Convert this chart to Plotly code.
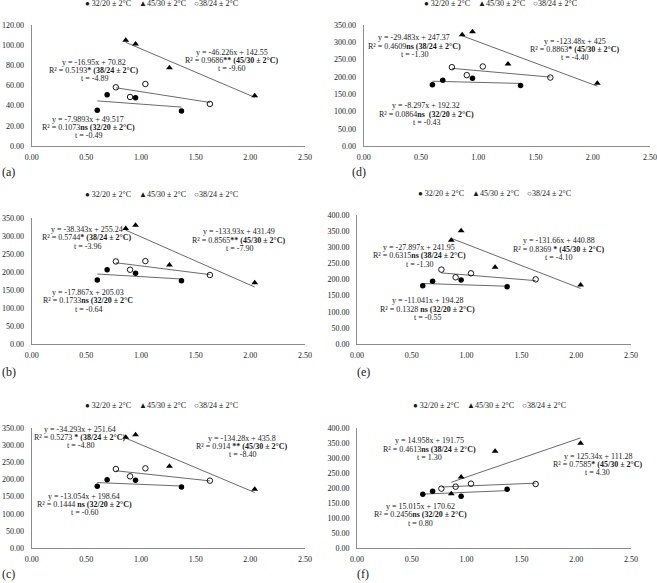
import plotly.graph_objects as go

# ---------------- data ----------------
x_3220 = [0.60, 0.69, 0.95, 1.37]
x_4530 = [0.86, 0.95, 1.26, 2.04]
x_3824 = [0.77, 0.90, 1.04, 1.63]

panels = ["a", "b", "c", "d", "e", "f"]

y_3220 = {
    "a": [35.4, 50.9, 47.9, 34.7],
    "b": [177.8, 206.3, 196.2, 175.9],
    "c": [179.9, 199.3, 197.4, 177.9],
    "d": [177.0, 190.5, 196.3, 175.0],
    "e": [180.8, 194.3, 198.4, 177.7],
    "f": [178.9, 188.9, 172.2, 195.6],
}
y_4530 = {
    "a": [104.8, 101.2, 77.7, 49.9],
    "b": [320.5, 329.7, 219.2, 170.4],
    "c": [322.8, 330.5, 238.2, 171.1],
    "d": [322.0, 330.7, 237.0, 181.8],
    "e": [322.0, 351.0, 237.9, 182.9],
    "f": [181.1, 236.7, 322.2, 348.9],
}
y_3824 = {
    "a": [58.2, 48.6, 61.5, 41.7],
    "b": [229.3, 206.3, 230.3, 191.6],
    "c": [230.4, 209.0, 232.4, 196.4],
    "d": [228.0, 205.0, 230.0, 198.0],
    "e": [230.6, 206.8, 219.2, 200.5],
    "f": [197.8, 204.4, 214.4, 213.3],
}

# trendline coefficients (slope, intercept)
fit_3220 = {"a": (-7.9893, 49.517), "b": (-17.867, 205.03), "c": (-13.054, 198.64),
            "d": (-8.297, 192.32), "e": (-11.041, 194.28), "f": (15.015, 170.62)}
fit_4530 = {"a": (-46.226, 142.55), "b": (-133.93, 431.49), "c": (-134.28, 435.8),
            "d": (-123.48, 425.0), "e": (-131.66, 440.88), "f": (125.34, 111.28)}
fit_3824 = {"a": (-16.95, 70.82), "b": (-38.343, 255.24), "c": (-34.293, 251.64),
            "d": (-29.483, 247.37), "e": (-27.897, 241.95), "f": (14.958, 191.75)}

# equation texts
txt_3220 = {
    "a": ["y = -7.9893x + 49.517", "R² = 0.1073<b>ns (32/20 ± 2°C)</b>", "t = -0.49"],
    "b": ["y = -17.867x + 205.03", "R² = 0.1733<b>ns (32/20 ± 2°C</b>", "t = -0.64"],
    "c": ["y = -13.054x + 198.64", "R² = 0.1444 <b>ns (32/20 ± 2°C)</b>", "t = -0.60"],
    "d": ["y = -8.297x + 192.32", "R² = 0.0864<b>ns  (32/20 ± 2°C)</b>", "t = -0.43"],
    "e": ["y = -11.041x + 194.28", "R² = 0.1328 <b>ns (32/20 ± 2°C)</b>", "t = -0.55"],
    "f": ["y = 15.015x + 170.62", "R² = 0.2456<b>ns (32/20 ± 2°C)</b>", "t = 0.80"],
}
txt_4530 = {
    "a": ["y = -46.226x + 142.55", "R² = 0.9686<b>** (45/30 ± 2°C)</b>", "t = -9.60"],
    "b": ["y = -133.93x + 431.49", "R² = 0.8565<b>** (45/30 ± 2°C)</b>", "t = -7.90"],
    "c": ["y = -134.28x + 435.8", "R² = 0.914 <b>** (45/30 ± 2°C)</b>", "t = -8.40"],
    "d": ["y = -123.48x + 425", "R² = 0.8863<b>* (45/30 ± 2°C)</b>", "t = -4.40"],
    "e": ["y = -131.66x + 440.88", "R² = 0.8369 <b>* (45/30 ± 2°C)</b>", "t = -4.10"],
    "f": ["y = 125.34x + 111.28", "R² = 0.7585<b>* (45/30 ± 2°C)</b>", "t = 4.30"],
}
txt_3824 = {
    "a": ["y = -16.95x + 70.82", "R² = 0.5193<b>* (38/24 ± 2°C)</b>", "t = -4.89"],
    "b": ["y = -38.343x + 255.24", "R² = 0.5744<b>* (38/24 ± 2°C)</b>", "t = -3.96"],
    "c": ["y = -34.293x + 251.64", "R² = 0.5273 <b>* (38/24 ± 2°C)</b>", "t = -4.80"],
    "d": ["y = -29.483x + 247.37", "R² = 0.4609<b>ns (38/24 ± 2°C)</b>", "t = -1.30"],
    "e": ["y = -27.897x + 241.95", "R² = 0.6315<b>ns (38/24 ± 2°C)</b>", "t = -1.30"],
    "f": ["y = 14.958x + 191.75", "R² = 0.4613<b>ns (38/24 ± 2°C)</b>", "t = 1.30"],
}

y_max = {"a": 120, "b": 350, "c": 350, "d": 350, "e": 400, "f": 400}
y_step = {"a": 20, "b": 50, "c": 50, "d": 50, "e": 50, "f": 50}
x_ticks = [0.0, 0.5, 1.0, 1.5, 2.0, 2.5]

legend_names = ["32/20 ± 2°C", "45/30 ± 2°C", "38/24 ± 2°C"]
panel_labels = {"a": "(a)", "b": "(b)", "c": "(c)", "d": "(d)", "e": "(e)", "f": "(f)"}

# ---------------- layout geometry (pixels) ----------------
W, H = 657, 583
geom = {  # x0, x1, ytop, ybottom in px
    "a": (31.7, 305, 25, 146),
    "b": (31.7, 305, 218, 344),
    "c": (31.7, 305, 428, 548),
    "d": (363.7, 650, 25, 146),
    "e": (357, 631, 215, 344),
    "f": (357, 631, 428, 548),
}
# annotation block centers in data coords (x, y) for 32/20, 45/30, 38/24
ann_pos = {
    "a": [(0.518, 18.5), (1.83, 84.6), (0.573, 74.7)],
    "b": [(0.518, 119.7), (1.90, 288.3), (0.51, 294.7)],
    "c": [(0.479, 126.4), (1.927, 296.5), (0.442, 322.8)],
    "d": [(0.548, 91.9), (1.844, 279.5), (0.44, 289.0)],
    "e": [(0.639, 108.0), (1.84, 294.0), (0.569, 273.2)],
    "f": [(0.578, 111.0), (2.196, 277.8), (0.66, 330.0)],
}
legend_pos = {"a": (161, 3.5), "b": (161, 194), "c": (161, 405),
              "d": (500, 3.5), "e": (494, 193), "f": (489, 405)}
label_pos = {"a": (0, 172), "b": (0, 372), "c": (0, 574),
             "d": (350, 172), "e": (355, 372), "f": (355, 574)}

FONT = "Liberation Serif"
TXT = "#1a1a1a"

fig = go.Figure()
layout = dict(
    width=W, height=H, margin=dict(l=0, r=0, t=0, b=0, autoexpand=False),
    paper_bgcolor="white", plot_bgcolor="white", showlegend=False,
    font=dict(family=FONT, size=8, color=TXT),
)
annotations = []

for i, p in enumerate(panels):
    n = "" if i == 0 else str(i + 1)
    xa, ya = "x" + n, "y" + n
    x0, x1, yt, yb = geom[p]
    layout["xaxis" + n] = dict(
        domain=[x0 / W, x1 / W], anchor=ya, range=[0, 2.5], tickvals=x_ticks,
        tickformat=".2f", showgrid=False, zeroline=False, showline=True,
        linecolor="#8c8c8c", linewidth=1, ticks="", ticklabelstandoff=3,
        automargin=False, tickfont=dict(family=FONT, size=8, color=TXT),
    )
    layout["yaxis" + n] = dict(
        domain=[1 - yb / H, 1 - yt / H], anchor=xa, range=[0, y_max[p]],
        tickvals=list(range(0, y_max[p] + 1, y_step[p])),
        tickformat=".2f", showgrid=False, zeroline=False, showline=True,
        linecolor="#8c8c8c", linewidth=1, ticks="", ticklabelstandoff=5,
        automargin=False, tickfont=dict(family=FONT, size=8, color=TXT),
    )

    series = [
        (x_3220, y_3220[p], fit_3220[p], dict(symbol="circle", size=5.5, color="black")),
        (x_4530, y_4530[p], fit_4530[p], dict(symbol="triangle-up", size=6, color="black")),
        (x_3824, y_3824[p], fit_3824[p], dict(symbol="circle-open", size=5.5, color="black",
                                              line=dict(width=0.9, color="black"))),
    ]
    for k, (xs, ys, (m, b), mk) in enumerate(series):
        xl = [min(xs), max(xs)]
        fig.add_trace(go.Scatter(x=xl, y=[m * v + b for v in xl], mode="lines",
                                 line=dict(color="#444444", width=0.8),
                                 xaxis=xa, yaxis=ya, hoverinfo="skip", name=legend_names[k]))
        fig.add_trace(go.Scatter(x=xs, y=ys, mode="markers", marker=mk,
                                 xaxis=xa, yaxis=ya, name=legend_names[k]))

    texts = [txt_3220[p], txt_4530[p], txt_3824[p]]
    for k, lines in enumerate(texts):
        cx, cy = ann_pos[p][k]
        for j, line in enumerate(lines):
            annotations.append(dict(
                x=cx, y=cy, xref=xa, yref=ya, text=line, showarrow=False,
                xanchor="center", yanchor="middle", yshift=(1 - j) * 8.3,
                font=dict(family=FONT, size=8, color=TXT),
            ))

    lx, ly = legend_pos[p]
    annotations.append(dict(
        x=lx / W, y=1 - ly / H, xref="paper", yref="paper", showarrow=False,
        xanchor="center", yanchor="middle",
        text="● " + legend_names[0] + "    ▲" + legend_names[1] + "    ○" + legend_names[2],
        font=dict(family=FONT, size=8, color=TXT),
    ))
    px_, py_ = label_pos[p]
    annotations.append(dict(
        x=px_ / W, y=1 - py_ / H, xref="paper", yref="paper", showarrow=False,
        xanchor="left", yanchor="middle", text=panel_labels[p],
        font=dict(family=FONT, size=12, color=TXT),
    ))

layout["annotations"] = annotations
fig.update_layout(**layout)
fig.write_html("out.html", config={"displayModeBar": False},
               post_script="document.body.style.margin='0';")
